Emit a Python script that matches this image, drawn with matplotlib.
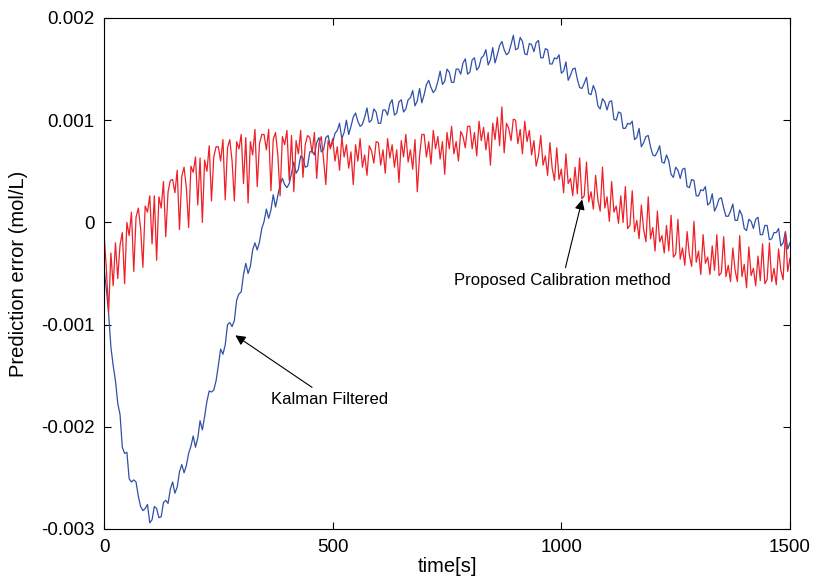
import numpy as np
import matplotlib
matplotlib.use('Agg')
import matplotlib.pyplot as plt

plt.rcParams['font.family'] = ['Liberation Sans', 'DejaVu Sans']

# time axis, one reading every 5 s
time = np.arange(0, 1501, 5)

# Kalman filtered prediction error (units of 1e-3 mol/L)
kalman = np.array([
    -0.45, -0.65, -0.89, -1.22, -1.40, -1.55, -1.77, -1.88, -2.20, -2.26,
    -2.25, -2.51, -2.54, -2.52, -2.54, -2.68, -2.78, -2.82, -2.80, -2.76,
    -2.94, -2.91, -2.78, -2.80, -2.89, -2.88, -2.74, -2.72, -2.75, -2.61,
    -2.54, -2.65, -2.59, -2.44, -2.37, -2.45, -2.38, -2.26, -2.19, -2.09,
    -2.20, -2.11, -1.94, -2.03, -1.90, -1.75, -1.65, -1.66, -1.64, -1.55,
    -1.40, -1.24, -1.29, -1.20, -1.00, -0.98, -1.02, -0.96, -0.76, -0.70,
    -0.68, -0.51, -0.40, -0.50, -0.43, -0.27, -0.20, -0.27, -0.19, -0.06,
    0.01, 0.13, 0.04, 0.12, 0.27, 0.15, 0.26, 0.37, 0.43, 0.37,
    0.34, 0.38, 0.48, 0.59, 0.48, 0.52, 0.65, 0.63, 0.54, 0.55,
    0.69, 0.70, 0.66, 0.78, 0.83, 0.69, 0.71, 0.83, 0.85, 0.74,
    0.78, 0.87, 0.90, 0.97, 0.82, 0.88, 1.00, 0.86, 0.94, 1.03,
    1.07, 0.99, 0.94, 0.96, 1.03, 1.12, 0.98, 1.00, 1.11, 1.08,
    0.97, 0.97, 1.10, 1.10, 1.05, 1.16, 1.20, 1.05, 1.07, 1.18,
    1.20, 1.08, 1.11, 1.20, 1.22, 1.29, 1.14, 1.19, 1.31, 1.17,
    1.25, 1.35, 1.39, 1.32, 1.27, 1.30, 1.38, 1.48, 1.35, 1.38,
    1.50, 1.47, 1.37, 1.37, 1.50, 1.50, 1.45, 1.56, 1.60, 1.45,
    1.47, 1.59, 1.61, 1.49, 1.52, 1.61, 1.63, 1.69, 1.54, 1.59,
    1.71, 1.56, 1.64, 1.73, 1.77, 1.69, 1.64, 1.66, 1.74, 1.83,
    1.69, 1.70, 1.81, 1.77, 1.65, 1.64, 1.75, 1.74, 1.67, 1.76,
    1.78, 1.61, 1.61, 1.70, 1.69, 1.55, 1.55, 1.61, 1.60, 1.64,
    1.46, 1.48, 1.57, 1.39, 1.44, 1.50, 1.51, 1.40, 1.32, 1.31,
    1.36, 1.42, 1.26, 1.25, 1.34, 1.28, 1.14, 1.11, 1.21, 1.18,
    1.10, 1.18, 1.19, 1.01, 1.00, 1.08, 1.07, 0.92, 0.92, 0.97,
    0.96, 0.99, 0.81, 0.83, 0.92, 0.74, 0.78, 0.84, 0.85, 0.74,
    0.66, 0.65, 0.69, 0.75, 0.59, 0.58, 0.66, 0.60, 0.47, 0.44,
    0.54, 0.51, 0.43, 0.52, 0.53, 0.35, 0.34, 0.42, 0.41, 0.26,
    0.26, 0.32, 0.31, 0.35, 0.17, 0.19, 0.28, 0.11, 0.16, 0.23,
    0.24, 0.14, 0.06, 0.06, 0.11, 0.18, 0.02, 0.02, 0.12, 0.07,
    -0.06, -0.08, 0.03, 0.01, -0.06, 0.03, 0.05, -0.12, -0.12, -0.03,
    -0.03, -0.17, -0.16, -0.10, -0.10, -0.06, -0.23, -0.20, -0.09, -0.26,
    -0.20,
]) * 1e-3

# proposed calibration method prediction error (units of 1e-3 mol/L)
proposed = np.array([
    -0.10, -0.45, -0.88, -0.30, -0.62, -0.20, -0.55, -0.22, -0.10, -0.60,
    0.00, -0.13, 0.10, -0.48, 0.05, 0.14, -0.06, -0.44, 0.16, 0.10,
    0.26, -0.21, 0.26, -0.37, 0.25, 0.14, 0.40, -0.14, 0.30, 0.41,
    0.42, 0.29, 0.51, -0.07, 0.45, 0.54, 0.34, -0.05, 0.55, 0.49,
    0.64, 0.17, 0.63, 0.00, 0.61, 0.50, 0.75, 0.21, 0.64, 0.74,
    0.74, 0.60, 0.81, 0.22, 0.73, 0.81, 0.60, 0.21, 0.79, 0.72,
    0.86, 0.38, 0.83, 0.19, 0.79, 0.66, 0.91, 0.35, 0.77, 0.86,
    0.86, 0.71, 0.91, 0.31, 0.81, 0.88, 0.66, 0.26, 0.84, 0.76,
    0.90, 0.41, 0.85, 0.30, 0.80, 0.67, 0.90, 0.44, 0.76, 0.85,
    0.83, 0.68, 0.88, 0.43, 0.77, 0.84, 0.62, 0.37, 0.80, 0.72,
    0.82, 0.60, 0.74, 0.51, 0.83, 0.64, 0.76, 0.53, 0.69, 0.37,
    0.76, 0.60, 0.82, 0.54, 0.66, 0.46, 0.75, 0.70, 0.58, 0.79,
    0.78, 0.56, 0.71, 0.48, 0.82, 0.63, 0.76, 0.54, 0.71, 0.39,
    0.80, 0.64, 0.86, 0.59, 0.71, 0.52, 0.81, 0.30, 0.65, 0.86,
    0.86, 0.64, 0.79, 0.57, 0.90, 0.72, 0.84, 0.62, 0.79, 0.47,
    0.88, 0.72, 0.94, 0.67, 0.79, 0.60, 0.89, 0.84, 0.73, 0.94,
    0.94, 0.72, 0.88, 0.65, 0.99, 0.80, 0.93, 0.71, 0.88, 0.56,
    0.97, 0.81, 1.03, 0.75, 1.13, 0.68, 0.97, 0.92, 0.80, 1.01,
    1.00, 0.77, 0.91, 0.67, 0.99, 0.79, 0.90, 0.66, 0.80, 0.55,
    0.65, 0.85, 0.56, 0.65, 0.46, 0.78, 0.53, 0.41, 0.73, 0.42,
    0.52, 0.29, 0.67, 0.38, 0.43, 0.26, 0.54, 0.28, 0.63, 0.23,
    0.26, 0.59, 0.20, 0.30, 0.13, 0.46, 0.22, 0.11, 0.54, 0.14,
    0.25, 0.01, 0.40, 0.10, 0.16, -0.01, 0.26, 0.00, 0.35, -0.06,
    -0.03, 0.31, -0.09, 0.02, -0.16, 0.17, -0.07, -0.19, 0.25, -0.16,
    -0.05, -0.28, 0.11, -0.19, -0.13, -0.30, -0.03, -0.28, 0.07, -0.34,
    -0.31, 0.03, -0.36, -0.25, -0.42, -0.09, -0.32, -0.43, 0.01, -0.39,
    -0.28, -0.51, -0.12, -0.40, -0.34, -0.51, -0.23, -0.47, -0.12, -0.52,
    -0.49, -0.14, -0.53, -0.42, -0.58, -0.25, -0.47, -0.58, -0.13, -0.53,
    -0.41, -0.64, -0.24, -0.52, -0.45, -0.62, -0.33, -0.57, -0.21, -0.60,
    -0.56, -0.20, -0.58, -0.45, -0.61, -0.26, -0.47, -0.56, -0.10, -0.48,
    -0.35,
]) * 1e-3

yticks = [-0.003, -0.002, -0.001, 0, 0.001, 0.002]
ytick_labels = ['-0.003', '-0.002', '-0.001', '0', '0.001', '0.002']
xticks = [0, 500, 1000, 1500]

fig = plt.figure(figsize=(8.14, 5.82), dpi=100)
ax = fig.add_axes([0.1278, 0.0911, 0.8427, 0.8780])

ax.plot(time, kalman, color='#3050a8', lw=0.9)
ax.plot(time, proposed, color='#ee2028', lw=0.9)

ax.set_xlim(0, 1500)
ax.set_ylim(-0.003, 0.002)
ax.set_xticks(xticks)
ax.set_xticklabels([str(v) for v in xticks])
ax.set_yticks(yticks)
ax.set_yticklabels(ytick_labels)
ax.tick_params(direction='in', top=True, right=True, labelsize=13.5,
               length=5, pad=7)
ax.set_xlabel('time[s]', fontsize=14.5, labelpad=1)
ax.set_ylabel('Prediction error (mol/L)', fontsize=14.5, labelpad=9)

arrow = dict(arrowstyle='-|>', color='black', lw=0.8, mutation_scale=15)
ax.annotate('Kalman Filtered', xy=(282, -0.00109), xytext=(365, -0.00173),
            fontsize=12, va='center', ha='left', arrowprops=arrow)
ax.annotate('Proposed Calibration method', xy=(1047, 0.00025),
            xytext=(765, -0.00057), fontsize=12, va='center', ha='left',
            arrowprops=arrow)

fig.savefig('out.png', dpi=100)
